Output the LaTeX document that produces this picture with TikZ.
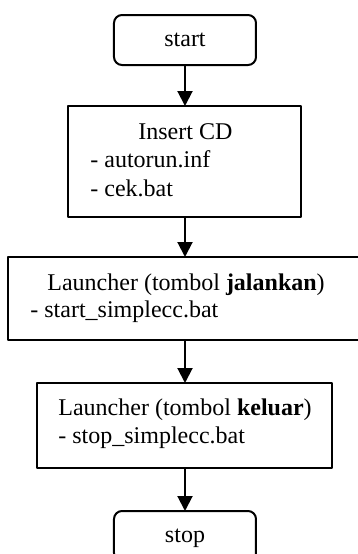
\documentclass[tikz,border=0pt]{standalone}
\usepackage{fontspec}
\setmainfont{Liberation Serif}
\usetikzlibrary{arrows.meta}
\tikzset{
	kotak/.style={draw, line width=1pt, inner sep=0pt, outer sep=0pt},
	ujung/.style={kotak, rounded corners=4pt, minimum width=71pt, minimum height=25pt, text depth=0pt},
	isi/.style={anchor=base west, inner sep=0pt}
}
\begin{document}
\begin{tikzpicture}[x=0.5pt, y=-0.5pt, line join=round, line cap=round, >={Triangle[length=7.5pt,width=7.5pt]}, font=\fontsize{12}{13.8}\selectfont]
				\useasboundingbox (0,0) rectangle (358,554);
				%% Titik pusat kotak
				\path 
				(185,40) coordinate (S)
				(185,161.5) coordinate (C)
				(185,298.5) coordinate (R)
				(185,425.5) coordinate (Q)
				(185,536) coordinate (E)
				;
				%% Kotak
				\node[ujung] (start) at (S) {start};
				\node[kotak, minimum width=116.5pt, minimum height=55.5pt] (cd) at (C) {};
				\node[kotak, minimum width=176.5pt, minimum height=41.5pt] (run) at (R) {};
				\node[kotak, minimum width=147.5pt, minimum height=42.5pt] (quit) at (Q) {};
				\node[ujung] (stop) at (E) {stop};
				%% Isi kotak
				\node[isi] (cd1) at (138,139) {Insert CD};
				\node[isi] (cd2) at (90,167) {- autorun.inf};
				\node[isi] (cd3) at (90,196) {- cek.bat};
				\node[isi] (run1) at (47,290) {Launcher (tombol \textbf{jalankan})};
				\node[isi] (run2) at (30,317) {- start\_simplecc.bat};
				\node[isi] (quit1) at (58,415) {Launcher (tombol \textbf{keluar})};
				\node[isi] (quit2) at (58,443) {- stop\_simplecc.bat};
				%% Panah
				\foreach \a/\b in {start/cd,cd/run,run/quit,quit/stop}
				\draw[->, line width=1pt] (\a)--(\b);
		\end{tikzpicture}
\end{document}
